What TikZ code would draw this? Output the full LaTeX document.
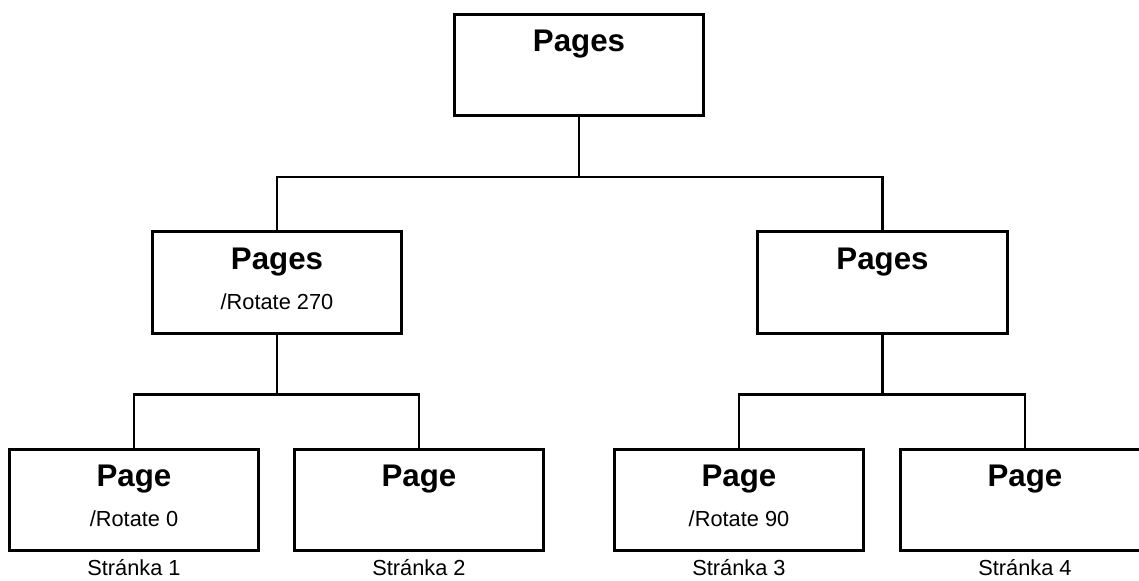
\documentclass[tikz,border=0pt]{standalone}
\usepackage{fontspec}
\setmainfont{Liberation Sans}
\usetikzlibrary{positioning}

\begin{document}
\begin{tikzpicture}[
            x=0.02cm, y=-0.02cm,
            box/.style={
                draw, line width=1.7pt,
                minimum width=5cm, minimum height=2.03cm,
                inner sep=0pt
            },
            wire/.style={
                line width=1.6pt
            },
            title/.style={
                anchor=base, inner sep=0pt,
                font=\fontsize{17.8}{20}\selectfont\bfseries
            },
            attr/.style={
                anchor=base, inner sep=0pt,
                font=\fontsize{12.4}{14}\selectfont
            }
        ]
        \useasboundingbox (0,0) rectangle (1139,581);
        \clip (0,0) rectangle (1139,581);

        % tree of page objects
        \node[box] (root) at (579,65) {};
        \node[box] (midL) at (277,282.5) {};
        \node[box] (midR) at (882.5,282.5) {};
        \node[box] (pg1) at (134,500) {};
        \node[box] (pg2) at (419,500) {};
        \node[box] (pg3) at (739,500) {};
        \node[box] (pg4) at (1025,500) {};

        \node[title] (tRoot) at ([yshift=-0.78cm]root.north) {Pages};
        \node[title] (tMidL) at ([yshift=-0.78cm]midL.north) {Pages};
        \node[attr]  (aMidL) at ([yshift=-1.58cm]midL.north) {/Rotate 270};
        \node[title] (tMidR) at ([yshift=-0.78cm]midR.north) {Pages};
        \node[title] (tPg1) at ([yshift=-0.78cm]pg1.north) {Page};
        \node[attr]  (aPg1) at ([yshift=-1.58cm]pg1.north) {/Rotate 0};
        \node[title] (tPg2) at ([yshift=-0.78cm]pg2.north) {Page};
        \node[title] (tPg3) at ([yshift=-0.78cm]pg3.north) {Page};
        \node[attr]  (aPg3) at ([yshift=-1.58cm]pg3.north) {/Rotate 90};
        \node[title] (tPg4) at ([yshift=-0.78cm]pg4.north) {Page};

        \node[attr] (cap1) at ([yshift=-0.46cm]pg1.south) {Stránka 1};
        \node[attr] (cap2) at ([yshift=-0.46cm]pg2.south) {Stránka 2};
        \node[attr] (cap3) at ([yshift=-0.46cm]pg3.south) {Stránka 3};
        \node[attr] (cap4) at ([yshift=-0.46cm]pg4.south) {Stránka 4};

        % connectors
        \coordinate (busTop) at (579,177);
        \coordinate (busL) at (277,394.5);
        \coordinate (busR) at (882.5,394.5);
        \draw[wire] (root.south) -- (busTop) -| (midL.north);
        \draw[wire] (busTop) -| (midR.north);
        \draw[wire] (midL.south) -- (busL) -| (pg1.north);
        \draw[wire] (busL) -| (pg2.north);
        \draw[wire] (midR.south) -- (busR) -| (pg3.north);
        \draw[wire] (busR) -| (pg4.north);
        \end{tikzpicture}
\end{document}
